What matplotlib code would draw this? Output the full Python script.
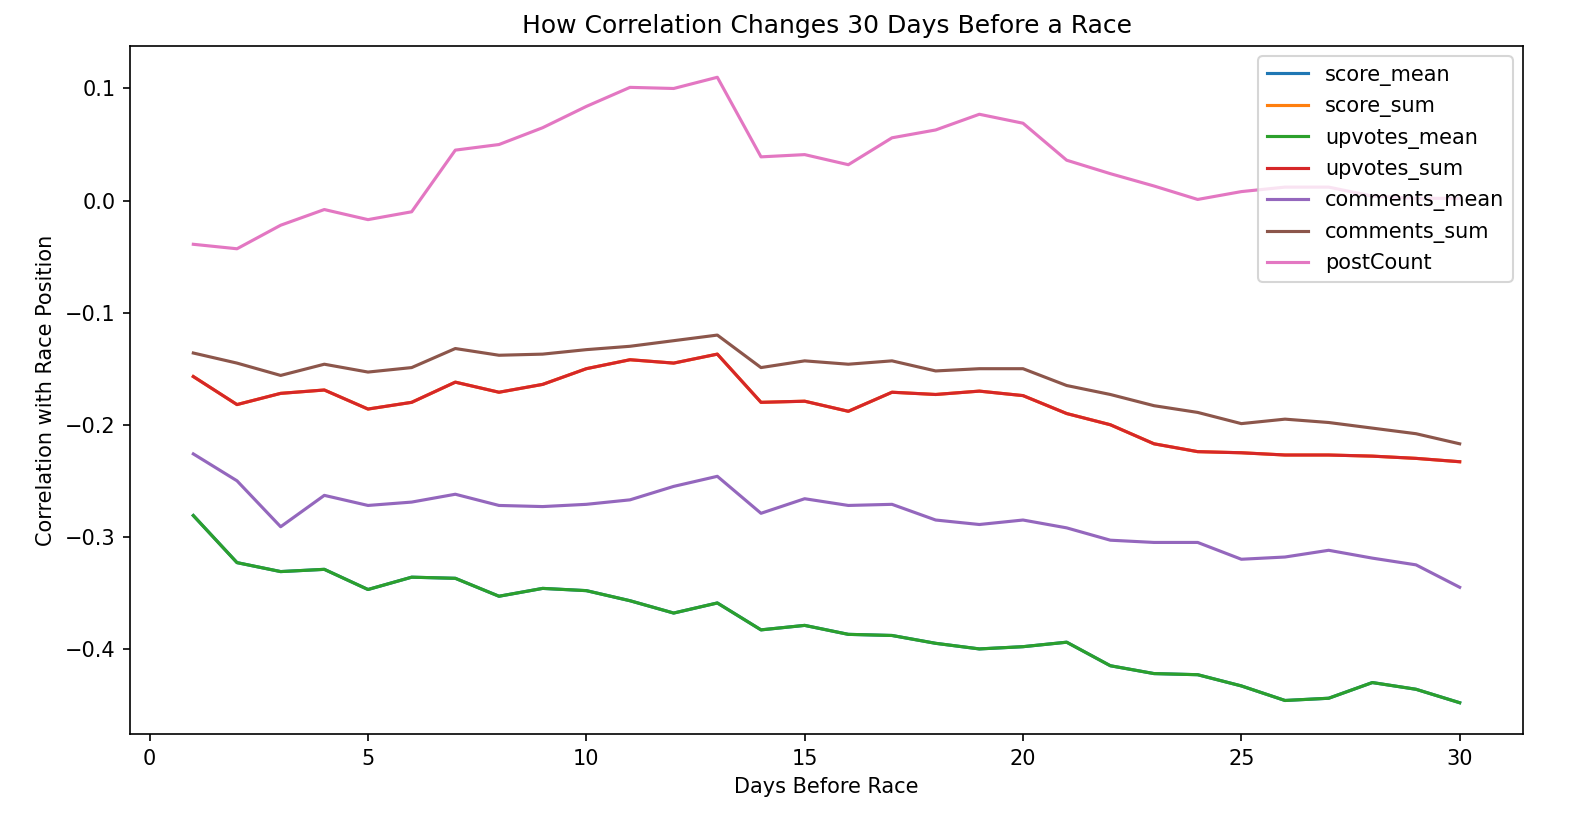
import matplotlib
matplotlib.use("Agg")
import matplotlib.pyplot as plt

days = list(range(1, 31))

upvotes_mean = [-0.281, -0.323, -0.331, -0.329, -0.347, -0.336, -0.337, -0.353, -0.346, -0.348,
                -0.357, -0.368, -0.359, -0.383, -0.379, -0.387, -0.388, -0.395, -0.400, -0.398,
                -0.394, -0.415, -0.422, -0.423, -0.433, -0.446, -0.444, -0.430, -0.436, -0.448]
upvotes_sum = [-0.157, -0.182, -0.172, -0.169, -0.186, -0.180, -0.162, -0.171, -0.164, -0.150,
               -0.142, -0.145, -0.137, -0.180, -0.179, -0.188, -0.171, -0.173, -0.170, -0.174,
               -0.190, -0.200, -0.217, -0.224, -0.225, -0.227, -0.227, -0.228, -0.230, -0.233]
score_mean = list(upvotes_mean)
score_sum = list(upvotes_sum)
comments_mean = [-0.226, -0.250, -0.291, -0.263, -0.272, -0.269, -0.262, -0.272, -0.273, -0.271,
                 -0.267, -0.255, -0.246, -0.279, -0.266, -0.272, -0.271, -0.285, -0.289, -0.285,
                 -0.292, -0.303, -0.305, -0.305, -0.320, -0.318, -0.312, -0.319, -0.325, -0.345]
comments_sum = [-0.136, -0.145, -0.156, -0.146, -0.153, -0.149, -0.132, -0.138, -0.137, -0.133,
                -0.130, -0.125, -0.120, -0.149, -0.143, -0.146, -0.143, -0.152, -0.150, -0.150,
                -0.165, -0.173, -0.183, -0.189, -0.199, -0.195, -0.198, -0.203, -0.208, -0.217]
postCount = [-0.039, -0.043, -0.022, -0.008, -0.017, -0.010, 0.045, 0.050, 0.065, 0.084,
             0.101, 0.100, 0.110, 0.039, 0.041, 0.032, 0.056, 0.063, 0.077, 0.069,
             0.036, 0.024, 0.013, 0.001, 0.008, 0.012, 0.012, 0.004, 0.002, 0.002]

series = [
    ("score_mean", score_mean),
    ("score_sum", score_sum),
    ("upvotes_mean", upvotes_mean),
    ("upvotes_sum", upvotes_sum),
    ("comments_mean", comments_mean),
    ("comments_sum", comments_sum),
    ("postCount", postCount),
]

DPI = 150
fig = plt.figure(figsize=(1582 / DPI, 815 / DPI), dpi=DPI)
ax = fig.add_axes([130 / 1582, 1 - 734 / 815, 1393 / 1582, 688 / 815])
for name, vals in series:
    ax.plot(days, vals, label=name)

ax.set_title("How Correlation Changes 30 Days Before a Race")
ax.set_xlabel("Days Before Race")
ax.set_ylabel("Correlation with Race Position")
ax.legend(loc="upper right")

fig.savefig("out.png", dpi=DPI)
